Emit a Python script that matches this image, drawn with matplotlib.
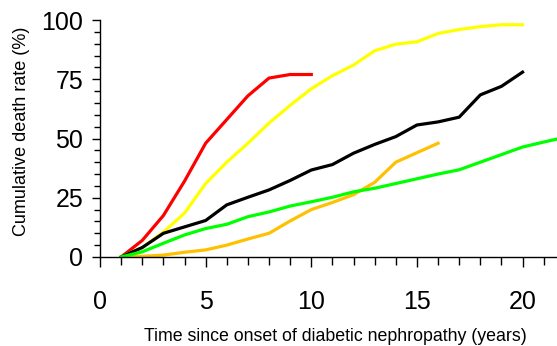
import numpy as np
import matplotlib
matplotlib.use('Agg')
import matplotlib.pyplot as plt
from matplotlib.ticker import MultipleLocator

plt.rcParams['font.family'] = ['Liberation Sans', 'DejaVu Sans']

# years since onset
t_red = [1, 2, 3, 4, 5, 6, 7, 8, 9, 10]
red = [0, 7, 17.5, 32, 48, 58, 68, 75.5, 77, 77]

t_yellow = list(range(1, 21))
yellow = [0, 4, 10.5, 18.5, 31, 40, 48, 56.5, 64, 71, 76.5, 81, 87, 89.8, 90.8, 94.3, 96, 97.2, 98, 98]

t_black = list(range(1, 21))
black = [0, 4, 10, 12.7, 15.4, 22, 25.2, 28.3, 32.3, 36.7, 39, 43.8, 47.5, 50.8, 55.7, 57, 59, 68.4, 72, 78]

t_green = list(range(1, 23))
green = [0, 2.2, 5.8, 9.3, 12, 13.8, 17, 19, 21.5, 23.3, 25.2, 27.5, 29, 31, 33, 35, 36.8, 40, 43.2, 46.4, 48.5, 50.5]

t_orange = list(range(1, 17))
orange = [0, 0.3, 0.8, 2, 3, 5, 7.6, 10, 15.2, 20, 23, 26.3, 31.5, 40, 44, 48]

fig = plt.figure(figsize=(5.57, 3.46), dpi=100)
ax = fig.add_axes([100 / 557, 1 - 257 / 346, 457 / 557, 237 / 346])

lw = 2.3
ax.plot(t_red, red, color='#ff0000', lw=lw)
ax.plot(t_yellow, yellow, color='#ffff00', lw=lw)
ax.plot(t_orange, orange, color='#ffc000', lw=lw)
ax.plot(t_black, black, color='black', lw=lw)
ax.plot(t_green, green, color='#00ff00', lw=lw)

ax.set_xlim(0, 21.63)
ax.set_ylim(0, 100)
ax.xaxis.set_major_locator(MultipleLocator(5))
ax.xaxis.set_minor_locator(MultipleLocator(1))
ax.yaxis.set_major_locator(MultipleLocator(25))
ax.yaxis.set_minor_locator(MultipleLocator(5))

for s in ['top', 'right']:
    ax.spines[s].set_visible(False)
for s in ['left', 'bottom']:
    ax.spines[s].set_linewidth(1.0)

ax.tick_params(axis='x', which='major', length=7.5, width=1, pad=16, labelsize=18)
ax.tick_params(axis='x', which='minor', length=5.5, width=1)
ax.tick_params(axis='y', which='major', length=6, width=1, pad=6, labelsize=18)
ax.tick_params(axis='y', which='minor', length=4, width=1)

ax.set_xlabel('Time since onset of diabetic nephropathy (years)', fontsize=12.8, labelpad=10)
ax.set_ylabel('Cumulative death rate (%)', fontsize=13, labelpad=8)
ax.xaxis.label.set_x(0.514)
ax.yaxis.label.set_y(0.53)

fig.savefig('out.png', dpi=100)
